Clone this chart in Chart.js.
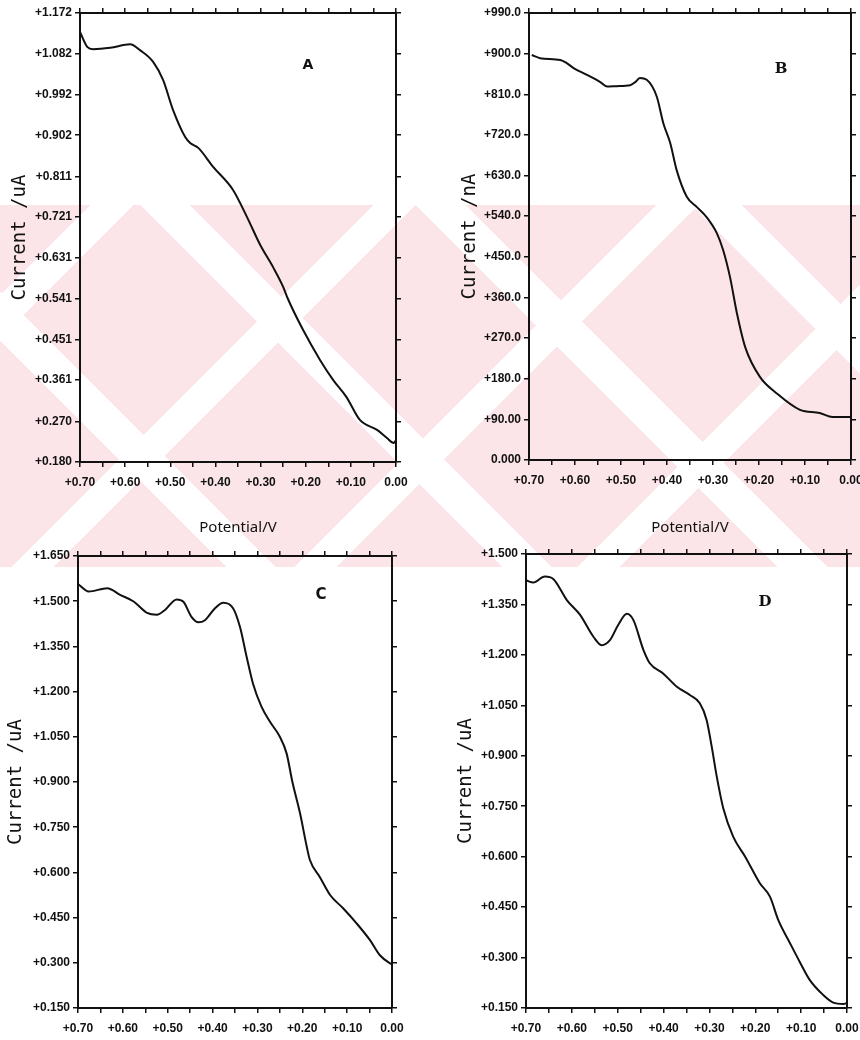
<!DOCTYPE html>
<html>
<head>
<meta charset="utf-8">
<script src="https://cdn.jsdelivr.net/npm/chart.js@4.4.1/dist/chart.umd.min.js"></script>
<style>
  body { margin: 0; background: #fff; }
  #page { position: relative; width: 860px; height: 1040px; overflow: hidden; }
  .mark {
    position: absolute; left: 0; top: 205px; width: 860px; height: 362px;
    background:
      repeating-linear-gradient(45deg, transparent 0 160px, #fff 160px 195px),
      repeating-linear-gradient(-45deg, transparent 0 170px, #fff 170px 200px),
      #fce5e9;
  }
  .panel { position: absolute; }
  .letter { position: absolute; transform: translate(-50%, -50%); color: #111; }
</style>
</head>
<body>
<div id="page">
  <div class="mark"></div>
  <div class="panel" style="left:0;top:0;width:420px;height:545px"><canvas id="chartA"></canvas></div>
  <div class="panel" style="left:430px;top:0;width:430px;height:545px"><canvas id="chartB"></canvas></div>
  <div class="panel" style="left:0;top:540px;width:420px;height:500px"><canvas id="chartC"></canvas></div>
  <div class="panel" style="left:430px;top:540px;width:430px;height:500px"><canvas id="chartD"></canvas></div>
  <div class="letter" style="left:308px;top:64px;font:bold 14px 'DejaVu Sans'">A</div>
  <div class="letter" style="left:781px;top:68px;font:bold 15px 'DejaVu Serif'">B</div>
  <div class="letter" style="left:321px;top:594px;font:bold 15px 'DejaVu Sans'">C</div>
  <div class="letter" style="left:765px;top:601px;font:bold 15px 'DejaVu Serif'">D</div>
</div>
<script>
// x axis, shared by all four panels (potential in V, plotted high to low)
const xTickValues = [0, 0.05, 0.10, 0.15, 0.20, 0.25, 0.30, 0.35, 0.40, 0.45, 0.50, 0.55, 0.60, 0.65, 0.70];
const xTickLabels = ['0.00', '', '+0.10', '', '+0.20', '', '+0.30', '', '+0.40', '', '+0.50', '', '+0.60', '', '+0.70'];

// panel A
const potentialA = [0.700, 0.684, 0.671, 0.633, 0.589, 0.567, 0.538, 0.516, 0.494, 0.467, 0.456, 0.438, 0.405, 0.361,
  0.330, 0.301, 0.272, 0.250, 0.241, 0.206, 0.168, 0.139, 0.110, 0.080, 0.042, 0.020, 0.005, 0.000];
const currentA = [1.130, 1.097, 1.092, 1.095, 1.103, 1.090, 1.064, 1.024, 0.958, 0.898, 0.885, 0.874, 0.832, 0.781,
  0.721, 0.660, 0.610, 0.567, 0.544, 0.472, 0.405, 0.361, 0.324, 0.273, 0.251, 0.233, 0.222, 0.228];
const yTicksA = [0.180, 0.270, 0.361, 0.451, 0.541, 0.631, 0.721, 0.811, 0.902, 0.992, 1.082, 1.172];
const yLabelsA = ['+0.180', '+0.270', '+0.361', '+0.451', '+0.541', '+0.631', '+0.721', '+0.811', '+0.902', '+0.992', '+1.082', '+1.172'];

// panel B
const potentialB = [0.694, 0.676, 0.632, 0.618, 0.603, 0.574, 0.545, 0.530, 0.509, 0.480, 0.469, 0.459, 0.444, 0.422,
  0.408, 0.393, 0.379, 0.357, 0.335, 0.314, 0.292, 0.278, 0.263, 0.248, 0.230, 0.198, 0.162, 0.111, 0.068,
  0.040, 0.010, 0.000];
const currentB = [897, 890, 886, 879, 868, 853, 837, 827, 828, 830, 837, 846, 842, 804,
  746, 702, 642, 583, 560, 538, 503, 465, 405, 325, 250, 184, 148, 111, 104,
  95, 95, 95];
const yTicksB = [0, 90, 180, 270, 360, 450, 540, 630, 720, 810, 900, 990];
const yLabelsB = ['0.000', '+90.00', '+180.0', '+270.0', '+360.0', '+450.0', '+540.0', '+630.0', '+720.0', '+810.0', '+900.0', '+990.0'];

// panel C
const potentialC = [0.700, 0.676, 0.635, 0.606, 0.576, 0.546, 0.524, 0.506, 0.480, 0.465, 0.447, 0.432, 0.417, 0.395,
  0.376, 0.354, 0.339, 0.324, 0.310, 0.291, 0.272, 0.250, 0.235, 0.222, 0.205, 0.190, 0.183, 0.161, 0.138,
  0.109, 0.079, 0.049, 0.027, 0.004, 0.000];
const currentC = [1.557, 1.532, 1.543, 1.521, 1.499, 1.461, 1.455, 1.471, 1.506, 1.498, 1.448, 1.430, 1.437, 1.476,
  1.495, 1.476, 1.415, 1.315, 1.227, 1.150, 1.100, 1.050, 0.995, 0.900, 0.796, 0.685, 0.641, 0.585, 0.525,
  0.481, 0.431, 0.375, 0.325, 0.298, 0.295];
const yTicksC = [0.150, 0.300, 0.450, 0.600, 0.750, 0.900, 1.050, 1.200, 1.350, 1.500, 1.650];
const yLabelsC = ['+0.150', '+0.300', '+0.450', '+0.600', '+0.750', '+0.900', '+1.050', '+1.200', '+1.350', '+1.500', '+1.650'];

// panel D
const potentialD = [0.699, 0.684, 0.659, 0.640, 0.611, 0.582, 0.553, 0.535, 0.517, 0.499, 0.480, 0.466, 0.444, 0.430,
  0.401, 0.371, 0.342, 0.321, 0.306, 0.295, 0.284, 0.270, 0.248, 0.222, 0.190, 0.168, 0.150, 0.124, 0.103,
  0.081, 0.052, 0.030, 0.008, 0.000];
const currentD = [1.421, 1.415, 1.433, 1.425, 1.363, 1.319, 1.254, 1.229, 1.244, 1.289, 1.322, 1.304, 1.215, 1.175,
  1.145, 1.105, 1.080, 1.056, 1.006, 0.927, 0.838, 0.745, 0.659, 0.600, 0.521, 0.481, 0.412, 0.342, 0.287,
  0.233, 0.189, 0.166, 0.162, 0.165];
const yTicksD = [0.150, 0.300, 0.450, 0.600, 0.750, 0.900, 1.050, 1.200, 1.350, 1.500];
const yLabelsD = ['+0.150', '+0.300', '+0.450', '+0.600', '+0.750', '+0.900', '+1.050', '+1.200', '+1.350', '+1.500'];

const ink = '#111';
const tickFont = { family: "'Liberation Sans', Arial, sans-serif", size: 12, weight: 'bold' };

function makePanel(id, p) {
  const grid = { drawOnChartArea: false, tickLength: 5, color: ink, lineWidth: 1.5 };
  const border = { color: ink, width: 2 };
  const setX = s => { s.ticks = xTickValues.map(v => ({ value: v })); };
  const setY = s => { s.ticks = p.yTicks.map(v => ({ value: v })); };
  const yMin = p.yTicks[0], yMax = p.yTicks[p.yTicks.length - 1];

  return new Chart(document.getElementById(id), {
    type: 'line',
    data: {
      datasets: [{
        data: p.potential.map((v, i) => ({ x: v, y: p.current[i] })),
        borderColor: ink,
        borderWidth: 2,
        pointRadius: 0,
        fill: false,
        cubicInterpolationMode: 'monotone'
      }]
    },
    options: {
      responsive: true,
      maintainAspectRatio: false,
      animation: false,
      layout: { padding: p.padding },
      plugins: { legend: { display: false }, tooltip: { enabled: false } },
      scales: {
        x: {
          type: 'linear', position: 'bottom', reverse: true, min: 0, max: 0.70,
          afterBuildTicks: setX,
          afterFit: s => { s.height = p.xHeight; },
          ticks: { autoSkip: false, maxRotation: 0, padding: 8, color: ink, font: tickFont,
                   callback: (v, i) => xTickLabels[i] },
          grid, border,
          title: { display: !!p.xTitle, text: p.xTitle, color: ink, padding: { top: 4, bottom: 8 },
                   font: { family: "'Noto Sans', sans-serif", size: 15 } }
        },
        x2: {
          type: 'linear', position: 'top', reverse: true, min: 0, max: 0.70,
          afterBuildTicks: setX,
          afterFit: s => { s.height = 6; },
          ticks: { autoSkip: false, maxRotation: 0, callback: () => '' },
          grid, border
        },
        y: {
          type: 'linear', position: 'left', min: yMin, max: yMax,
          afterBuildTicks: setY,
          afterFit: s => { s.width = p.yWidth; },
          ticks: { autoSkip: false, padding: 3, color: ink, font: tickFont,
                   callback: (v, i) => p.yLabels[i] },
          grid, border,
          title: { display: true, text: p.yTitle, color: ink, padding: { top: p.yTitlePad, bottom: 0 },
                   font: { family: "'DejaVu Sans Mono', monospace", size: 19 } }
        },
        y2: {
          type: 'linear', position: 'right', min: yMin, max: yMax,
          afterBuildTicks: setY,
          afterFit: s => { s.width = 6; },
          ticks: { autoSkip: false, callback: () => '' },
          grid, border
        }
      }
    }
  });
}

makePanel('chartA', {
  potential: potentialA, current: currentA, yTicks: yTicksA, yLabels: yLabelsA,
  yTitle: 'Current /uA', xTitle: 'Potential/V',
  padding: { left: 0, right: 18, top: 7, bottom: 0 }, yWidth: 80, xHeight: 83, yTitlePad: 8.6
});
makePanel('chartB', {
  potential: potentialB, current: currentB, yTicks: yTicksB, yLabels: yLabelsB,
  yTitle: 'Current /nA', xTitle: 'Potential/V',
  padding: { left: 0, right: 3, top: 7, bottom: 0 }, yWidth: 99, xHeight: 85, yTitlePad: 28.6
});
makePanel('chartC', {
  potential: potentialC, current: currentC, yTicks: yTicksC, yLabels: yLabelsC,
  yTitle: 'Current /uA', xTitle: '',
  padding: { left: 0, right: 22, top: 10, bottom: 0 }, yWidth: 78, xHeight: 32, yTitlePad: 4.6
});
makePanel('chartD', {
  potential: potentialD, current: currentD, yTicks: yTicksD, yLabels: yLabelsD,
  yTitle: 'Current /uA', xTitle: '',
  padding: { left: 0, right: 7, top: 8, bottom: 0 }, yWidth: 96, xHeight: 32, yTitlePad: 24.6
});
</script>
</body>
</html>
